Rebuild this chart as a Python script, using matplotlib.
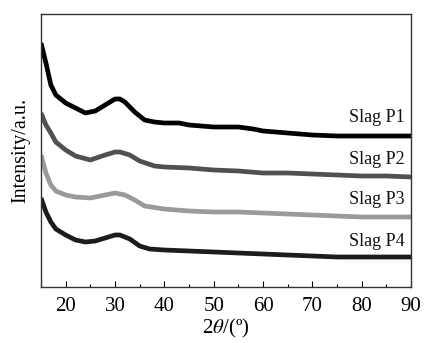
import matplotlib
matplotlib.use("Agg")
import matplotlib.pyplot as plt
from matplotlib.ticker import MultipleLocator

plt.rcParams['font.family'] = ['Liberation Serif', 'DejaVu Serif']
plt.rcParams['mathtext.fontset'] = 'stix'

# Data (2theta in degrees, intensity in arbitrary units, offset per curve)
x_p1 = [15, 16, 17, 18, 20, 22, 24, 26, 28, 30, 31, 32, 34, 36, 38, 40, 43, 45, 50, 55, 58, 60, 65, 70, 75, 80, 85, 90]
y_p1 = [244, 224, 202, 192, 184, 179, 174, 176, 182, 188, 188, 185, 175, 167, 165, 164, 164, 162, 160, 160, 158, 156, 154, 152, 151, 151, 151, 151]

x_p2 = [15, 16, 17, 18, 20, 22, 25, 28, 30, 31, 33, 35, 38, 40, 45, 50, 55, 60, 65, 70, 75, 80, 85, 90]
y_p2 = [174, 162, 154, 145, 137, 131, 127, 132, 135, 135, 132, 126, 121, 120, 119, 117, 116, 114, 114, 113, 112, 111, 111, 110]

x_p3 = [15, 16, 17, 18, 20, 22, 25, 28, 30, 32, 34, 36, 40, 45, 50, 55, 60, 65, 70, 75, 80, 85, 90]
y_p3 = [132, 114, 102, 96, 92, 90, 89, 92, 94, 92, 87, 81, 78, 76, 75, 75, 74, 73, 72, 71, 70, 70, 70]

x_p4 = [15, 16, 17, 18, 20, 22, 24, 26, 28, 30, 31, 33, 35, 37, 40, 45, 50, 55, 60, 65, 70, 75, 80, 85, 90]
y_p4 = [89, 75, 65, 58, 52, 47, 45, 46, 49, 52, 52, 48, 41, 38, 37, 36, 35, 34, 33, 32, 31, 30, 30, 30, 30]

labels = ['Slag P1', 'Slag P2', 'Slag P3', 'Slag P4']
label_y = [169, 127, 87, 45]
colors = ['#000000', '#505050', '#9a9a9a', '#1c1c1c']
xticks = [20, 30, 40, 50, 60, 70, 80, 90]

fig = plt.figure(figsize=(4.24, 3.43), dpi=100)
ax = fig.add_axes([41/424, 56/343, 370/424, 273/343])

series = [(x_p1, y_p1), (x_p2, y_p2), (x_p3, y_p3), (x_p4, y_p4)]
for (xs, ys), c in zip(series, colors):
    ax.plot(xs, ys, color=c, lw=3.4, solid_joinstyle='round', solid_capstyle='butt')

for lab, ly in zip(labels, label_y):
    ax.text(88.7, ly, lab, ha='right', va='center', fontsize=13, color='#111111')

ax.set_xlim(15, 90)
ax.set_ylim(0, 273)
ax.set_xticks(xticks)
ax.xaxis.set_minor_locator(MultipleLocator(5))
ax.set_yticks([])
ax.tick_params(axis='x', which='major', direction='in', length=4, width=0.8, labelsize=15, pad=7)
ax.tick_params(axis='x', which='minor', direction='in', length=2, width=0.8)
for s in ax.spines.values():
    s.set_linewidth(1.0)
    s.set_color('#333333')

ax.set_xlabel(r'2$\theta$/(º)', fontsize=15, labelpad=1)
ax.set_ylabel('Intensity/a.u.', fontsize=14.5, labelpad=8)

fig.savefig('out.png', dpi=100)
